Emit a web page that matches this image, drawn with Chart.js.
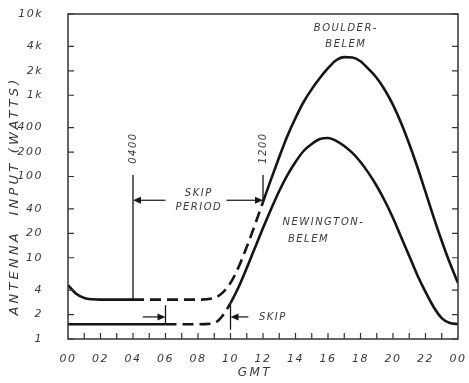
<!DOCTYPE html>
<html>
<head>
<meta charset="utf-8">
<script src="https://cdn.jsdelivr.net/npm/chart.js@4.4.1/dist/chart.umd.min.js"></script>
<style>
  html, body { margin: 0; padding: 0; background: #fff; }
</style>
</head>
<body>
<canvas id="chart" width="469" height="383"></canvas>
<script>
// hours GMT
const hours = [0, 0.5, 1, 1.5, 2, 3, 4, 5, 6, 7, 8, 9, 9.5, 10, 10.5, 11, 11.5, 12, 12.5, 13, 13.5, 14, 14.5, 15, 15.5, 16, 16.5, 17, 17.5, 18, 18.5, 19, 19.5, 20, 20.5, 21, 21.5, 22, 22.5, 23, 23.5, 24];
// antenna input, watts
const boulderWatts = [4.6, 3.6, 3.2, 3.08, 3.05, 3.05, 3.05, 3.05, 3.05, 3.05, 3.05, 3.2, 3.7, 4.9, 7.7, 13.6, 25.3, 48.6, 93, 174, 315, 525, 826, 1190, 1630, 2150, 2700, 2950, 2920, 2620, 2100, 1630, 1160, 760, 455, 251, 131, 64.5, 31.7, 16.1, 8.6, 4.9];
const newingtonWatts = [1.52, 1.52, 1.52, 1.52, 1.52, 1.52, 1.52, 1.52, 1.52, 1.52, 1.52, 1.57, 1.92, 2.77, 4.37, 7.5, 13.2, 23.2, 39.8, 66.3, 104, 151, 206, 251, 289, 298, 275, 237, 195, 151, 110, 76.4, 49.9, 30.9, 18, 10.5, 6.1, 3.8, 2.48, 1.81, 1.57, 1.53];

// parts of each curve drawn dashed (skip)
const boulderDashed = [4, 12];
const newingtonDashed = [6, 10];

const xTicks = [0, 2, 4, 6, 8, 10, 12, 14, 16, 18, 20, 22, 24];
const xLabels = ['00', '02', '04', '06', '08', '10', '12', '14', '16', '18', '20', '22', '00'];
const yTicks = [1, 2, 4, 10, 20, 40, 100, 200, 400, 1000, 2000, 4000, 10000];
const yLabels = ['1', '2', '4', '10', '20', '40', '100', '200', '400', '1k', '2k', '4k', '10k'];

const ink = '#151515';
const textColor = '#3a3a3a';
const fontFamily = '"DejaVu Sans", sans-serif';

function dashIn(range) {
  return ctx => (ctx.p0.parsed.x >= range[0] && ctx.p1.parsed.x <= range[1]) ? [11, 6] : undefined;
}

function valueAt(series, h) {
  return series[hours.indexOf(h)];
}

function arrow(ctx, x0, y, x1) {
  // shaft from x0 to x1, head at x1
  const dir = Math.sign(x1 - x0);
  ctx.beginPath();
  ctx.moveTo(x0, y);
  ctx.lineTo(x1 - dir * 6, y);
  ctx.stroke();
  ctx.beginPath();
  ctx.moveTo(x1, y);
  ctx.lineTo(x1 - dir * 8, y - 3.5);
  ctx.lineTo(x1 - dir * 8, y + 3.5);
  ctx.closePath();
  ctx.fill();
}

function vtext(ctx, text, x, y) {
  ctx.save();
  ctx.translate(x, y);
  ctx.rotate(-Math.PI / 2);
  ctx.textAlign = 'center';
  ctx.textBaseline = 'middle';
  ctx.fillText(text, 0, 0);
  ctx.restore();
}

const spacing = {
  id: 'spacing',
  beforeDraw(chart) {
    chart.ctx.letterSpacing = '1.5px';
  }
};

const frame = {
  id: 'frame',
  afterDraw(chart) {
    const ctx = chart.ctx;
    const xs = chart.scales.x, ys = chart.scales.y;
    const {left, right, top, bottom} = chart.chartArea;
    const px = v => xs.getPixelForValue(v);
    const py = v => ys.getPixelForValue(v);
    ctx.save();
    ctx.strokeStyle = '#333';
    ctx.fillStyle = ink;
    ctx.lineWidth = 1.5;
    ctx.strokeRect(left, top, right - left, bottom - top);

    // inner tick marks
    ctx.lineWidth = 1.2;
    ctx.beginPath();
    yTicks.forEach(v => {
      const y = py(v);
      ctx.moveTo(left, y); ctx.lineTo(left + 6, y);
      ctx.moveTo(right, y); ctx.lineTo(right - 6, y);
    });
    for (let h = 1; h < 24; h++) {
      const x = px(h);
      ctx.moveTo(x, bottom); ctx.lineTo(x, bottom - 6);
    }
    ctx.stroke();

    // skip period markers
    ctx.strokeStyle = ink;
    ctx.lineWidth = 1.3;
    ctx.beginPath();
    ctx.moveTo(px(4), py(valueAt(boulderWatts, 4))); ctx.lineTo(px(4), py(104));
    ctx.moveTo(px(12), py(valueAt(boulderWatts, 12))); ctx.lineTo(px(12), py(104));
    ctx.moveTo(px(6), py(valueAt(newingtonWatts, 6))); ctx.lineTo(px(6), py(2.6));
    ctx.moveTo(px(10), py(1.3)); ctx.lineTo(px(10), py(2.6));
    ctx.stroke();

    ctx.lineWidth = 1.2;
    arrow(ctx, px(6), py(51), px(4));
    arrow(ctx, px(9.75), py(51), px(12));
    arrow(ctx, px(4.6), py(1.87), px(6));
    arrow(ctx, px(11.1), py(1.87), px(10));

    ctx.fillStyle = textColor;
    ctx.letterSpacing = '1.5px';
    ctx.font = 'italic 10px ' + fontFamily;
    vtext(ctx, '0400', px(4), py(104) - 27);
    vtext(ctx, '1200', px(12), py(104) - 27);

    ctx.textAlign = 'center';
    ctx.textBaseline = 'middle';
    ctx.fillText('SKIP', px(8.05), py(51) - 7);
    ctx.fillText('PERIOD', px(8.05), py(51) + 7);
    ctx.textAlign = 'left';
    ctx.fillText('SKIP', px(11.75), py(1.87));

    ctx.textAlign = 'center';
    ctx.fillText('BOULDER-', px(17.1), py(6700));
    ctx.fillText('BELEM', px(17.1), py(4170));
    ctx.textAlign = 'left';
    ctx.fillText('NEWINGTON-', px(13.2), py(27.5));
    ctx.textAlign = 'center';
    ctx.fillText('BELEM', px(14.8), py(16.6));

    // axis titles
    ctx.font = 'italic 13px ' + fontFamily;
    ctx.letterSpacing = '3.2px';
    vtext(ctx, 'ANTENNA  INPUT (WATTS)', 15, 196);
    ctx.font = 'italic 12px ' + fontFamily;
    ctx.letterSpacing = '2.5px';
    ctx.textAlign = 'center';
    ctx.fillText('GMT', px(11.5), 373);
    ctx.restore();
  }
};

new Chart(document.getElementById('chart'), {
  type: 'line',
  data: {
    labels: hours,
    datasets: [
      {
        label: 'Boulder-Belem',
        data: hours.map((h, i) => ({x: h, y: boulderWatts[i]})),
        borderColor: ink,
        borderWidth: 2.6,
        pointRadius: 0,
        cubicInterpolationMode: 'monotone',
        segment: { borderDash: dashIn(boulderDashed) }
      },
      {
        label: 'Newington-Belem',
        data: hours.map((h, i) => ({x: h, y: newingtonWatts[i]})),
        borderColor: ink,
        borderWidth: 2.6,
        pointRadius: 0,
        cubicInterpolationMode: 'monotone',
        segment: { borderDash: dashIn(newingtonDashed) }
      }
    ]
  },
  options: {
    responsive: false,
    animation: false,
    layout: { padding: { top: 14, right: 11, left: 0, bottom: 0 } },
    plugins: { legend: { display: false }, tooltip: { enabled: false } },
    scales: {
      x: {
        type: 'linear',
        min: 0,
        max: 24,
        grid: { display: false },
        border: { display: false },
        afterBuildTicks: s => { s.ticks = xTicks.map(v => ({value: v})); },
        afterFit: s => { s.height = 44; s.paddingLeft = 0; s.paddingRight = 0; },
        ticks: {
          autoSkip: false,
          maxRotation: 0,
          padding: 6,
          color: textColor,
          font: { family: fontFamily, size: 11, style: 'italic' },
          callback: (v, i) => xLabels[i]
        }
      },
      y: {
        type: 'logarithmic',
        min: 1,
        max: 10000,
        grid: { display: false },
        border: { display: false },
        afterBuildTicks: s => { s.ticks = yTicks.map(v => ({value: v})); },
        afterFit: s => { s.width = 68; s.paddingTop = 0; s.paddingBottom = 0; },
        ticks: {
          autoSkip: false,
          padding: 17,
          color: textColor,
          font: { family: fontFamily, size: 11, style: 'italic' },
          callback: (v, i) => yLabels[i]
        }
      }
    }
  },
  plugins: [spacing, frame]
});
</script>
</body>
</html>
